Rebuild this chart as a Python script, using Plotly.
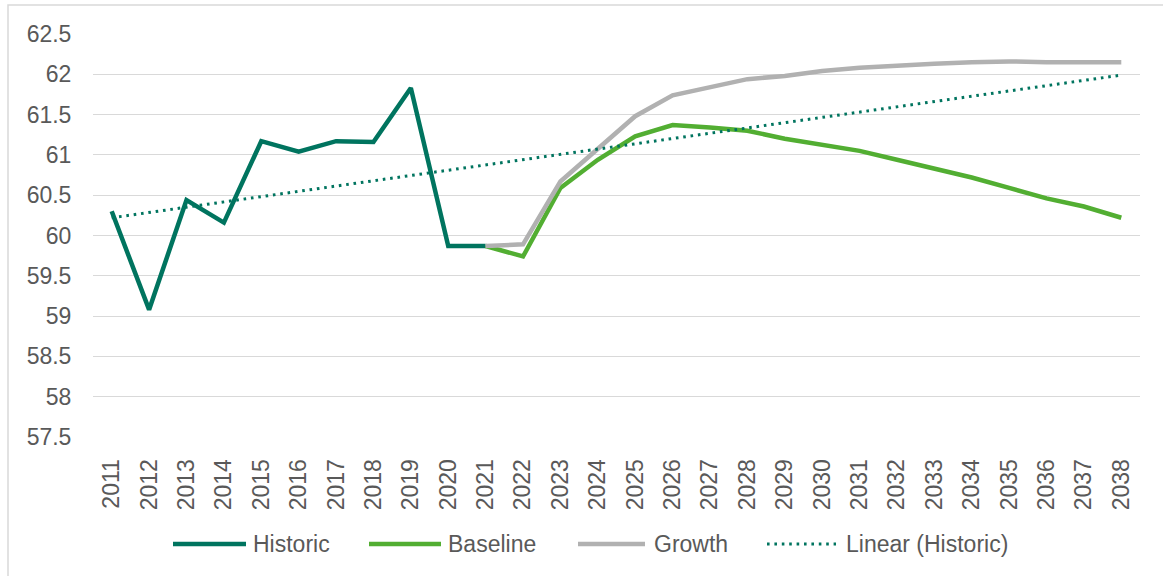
import plotly.graph_objects as go

years = list(range(2011, 2039))

hist_years = list(range(2011, 2022))
hist_values = [60.30, 59.08, 60.44, 60.16, 61.17, 61.04, 61.17, 61.16, 61.83, 59.87, 59.87]

proj_years = list(range(2021, 2039))
baseline_values = [59.87, 59.74, 60.59, 60.94, 61.23, 61.37, 61.34, 61.30, 61.20, 61.13,
                   61.05, 60.94, 60.83, 60.72, 60.59, 60.46, 60.36, 60.22]
growth_values = [59.87, 59.89, 60.67, 61.08, 61.48, 61.74, 61.84, 61.94, 61.98, 62.04,
                 62.08, 62.11, 62.13, 62.15, 62.16, 62.15, 62.15, 62.15]

trend_years = [2011, 2038]
trend_values = [60.22, 61.99]

legend_names = ["Historic", "Baseline", "Growth", "Linear (Historic)"]

C_HIST = "#00745F"
C_BASE = "#52AE32"
C_GROW = "#B1B1B1"
TXT = "#595959"
GRID = "#D9D9D9"
FONT = "Liberation Sans, Arial, sans-serif"

fig = go.Figure()
fig.add_trace(go.Scatter(x=hist_years, y=hist_values, mode="lines", name=legend_names[0],
                         line=dict(color=C_HIST, width=4.5), showlegend=False))
fig.add_trace(go.Scatter(x=proj_years, y=baseline_values, mode="lines", name=legend_names[1],
                         line=dict(color=C_BASE, width=4.5), showlegend=False))
fig.add_trace(go.Scatter(x=proj_years, y=growth_values, mode="lines", name=legend_names[2],
                         line=dict(color=C_GROW, width=4.5), showlegend=False))
fig.add_trace(go.Scatter(x=trend_years, y=trend_values, mode="lines", name=legend_names[3],
                         line=dict(color=C_HIST, width=3, dash="2.6px,4.8px"), showlegend=False))

# plot area in pixels
L, R, T, B = 93, 1140, 34, 437
W, H = R - L, B - T
def px(x):
    return (x - L) / W
def py(y):
    return (B - y) / H

shapes = []
annotations = []
# chart border
shapes.append(dict(type="rect", xref="paper", yref="paper",
                   x0=px(8), x1=px(1175), y0=py(590), y1=py(5),
                   line=dict(color=GRID, width=1.5), fillcolor="rgba(0,0,0,0)", layer="below"))

# custom legend
leg_y = 544
items = [
    (173, 246, 251, legend_names[0], C_HIST, "solid"),
    (369, 441, 446, legend_names[1], C_BASE, "solid"),
    (578, 645, 652, legend_names[2], C_GROW, "solid"),
    (767, 836, 844, legend_names[3], C_HIST, "dot"),
]
for x0, x1, tx, name, col, style in items:
    if style == "solid":
        shapes.append(dict(type="line", xref="paper", yref="paper",
                           x0=px(x0), x1=px(x1), y0=py(leg_y), y1=py(leg_y),
                           line=dict(color=col, width=4.5)))
    else:
        shapes.append(dict(type="line", xref="paper", yref="paper",
                           x0=px(x0), x1=px(x1), y0=py(leg_y), y1=py(leg_y),
                           line=dict(color=col, width=3, dash="2.6px,4.8px")))
    annotations.append(dict(xref="paper", yref="paper", x=px(tx), y=py(leg_y),
                            text=name, showarrow=False, xanchor="left", yanchor="middle",
                            font=dict(family=FONT, size=23, color=TXT)))

fig.update_layout(
    width=1163, height=576,
    margin=dict(l=L, r=1163 - R, t=T, b=576 - B),
    paper_bgcolor="white", plot_bgcolor="white",
    font=dict(family=FONT, size=23, color=TXT),
    shapes=shapes, annotations=annotations,
    showlegend=False,
)
fig.update_xaxes(range=[2010.5, 2038.5], tickmode="array", tickvals=years,
                 ticktext=[str(y) for y in years], tickangle=-90,
                 showgrid=False, zeroline=False, showline=False,
                 ticks="outside", ticklen=12, tickcolor="rgba(0,0,0,0)",
                 tickfont=dict(family=FONT, size=23, color=TXT))
fig.update_yaxes(range=[57.5, 62.5], dtick=0.5, tick0=57.5,
                 showgrid=True, gridcolor=GRID, gridwidth=1.3,
                 zeroline=False, showline=False,
                 ticks="outside", ticklen=16, tickcolor="rgba(0,0,0,0)",
                 tickfont=dict(family=FONT, size=23, color=TXT))

fig.write_html("out.html")
